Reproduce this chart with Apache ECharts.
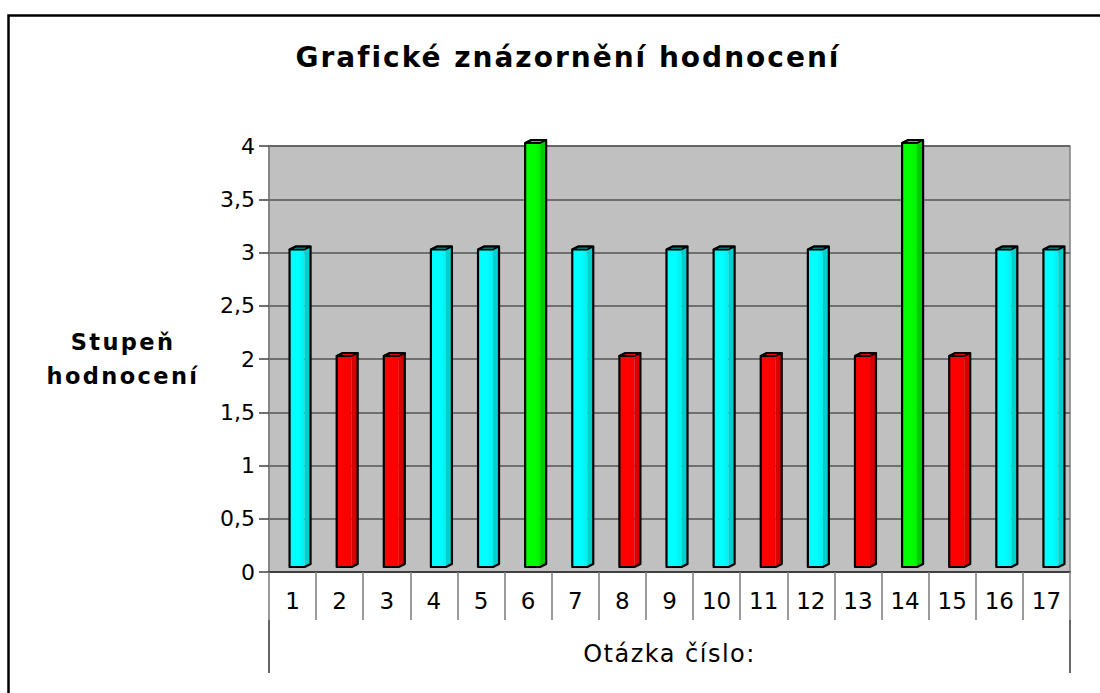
<!DOCTYPE html>
<html>
<head>
<meta charset="utf-8">
<script src="https://cdn.jsdelivr.net/npm/echarts@6/dist/echarts.min.js"></script>
<style>
  html, body { margin: 0; padding: 0; background: #ffffff; }
  #chart { width: 1100px; height: 693px; }
  #chart svg text[style*="bold"] { letter-spacing: 2.4px; }
  #chart svg text[style*="bold"][style*="28px"] { letter-spacing: 2px; }
  #chart svg text[style*="Verdana"] { letter-spacing: 1.5px; }
</style>
</head>
<body>
<div id="chart"></div>
<script>
// ---- data ----
const chartTitle = 'Grafické znázornění hodnocení';
const yAxisTitle = 'Stupeň\nhodnocení';
const xAxisTitle = 'Otázka číslo:';
const categories = ['1','2','3','4','5','6','7','8','9','10','11','12','13','14','15','16','17'];
const values = [3, 2, 2, 3, 3, 4, 3, 2, 3, 3, 2, 3, 2, 4, 2, 3, 3];

// ---- styling ----
const palette = {
  2: { front: '#FF0000', front2: '#F40000', side: '#D80000', top: '#F00000' },
  3: { front: '#00FFFF', front2: '#00EEEE', side: '#00CFCF', top: '#00E6E6' },
  4: { front: '#00FF00', front2: '#00EE00', side: '#00CC00', top: '#22E022' }
};
function colorFor(v) { return palette[v] || palette[3]; }

function renderBar(params, api) {
  const idx = api.value(0);
  const v = api.value(1);
  const p = api.coord([idx, v]);
  const b = api.coord([idx, 0]);
  const cx = p[0];
  const L = cx - 3, R = cx + 18, d = 6, dy = 3;
  const yt = p[1] - 3, yb = b[1] - 5;
  const c = colorFor(v);
  return {
    type: 'group',
    children: [
      { type: 'polygon', shape: { points: [[R - d, yt], [R, yt - dy], [R, yb - dy], [R - d, yb]] },
        style: { fill: c.side } },
      { type: 'rect', shape: { x: L, y: yt, width: R - d - L, height: yb - yt },
        style: { fill: new echarts.graphic.LinearGradient(0, 0, 1, 0, [
          { offset: 0, color: c.front }, { offset: 0.6, color: c.front }, { offset: 1, color: c.front2 }]) } },
      { type: 'polygon', shape: { points: [[L, yt], [L + d, yt - dy], [R, yt - dy], [R - d, yt]] },
        style: { fill: c.top, stroke: '#000', lineWidth: 1.8, lineJoin: 'round' } },
      { type: 'polygon', shape: { points: [[L, yb], [L, yt], [L + d, yt - dy], [R, yt - dy], [R, yb - dy], [R - d, yb]] },
        style: { fill: 'none', stroke: '#000', lineWidth: 2.2, lineJoin: 'round' } }
    ]
  };
}

const chart = echarts.init(document.getElementById('chart'), null, { renderer: 'svg' });
chart.setOption({
  animation: false,
  backgroundColor: '#ffffff',
  textStyle: { fontFamily: 'DejaVu Sans', color: '#000' },
  title: {
    text: chartTitle,
    left: 563,
    top: 38,
    textAlign: 'center',
    textStyle: { fontFamily: 'DejaVu Sans', fontWeight: 'bold', fontSize: 28, color: '#000' }
  },
  graphic: [
    { type: 'rect', silent: true, z: 100,
      shape: { x: 8.5, y: 15.5, width: 2000, height: 2000 },
      style: { fill: 'none', stroke: '#000', lineWidth: 2.5 } }
  ],
  grid: {
    left: 269, right: 30, top: 146, bottom: 121,
    show: true, backgroundColor: '#C0C0C0', borderColor: '#808080', borderWidth: 1.5
  },
  xAxis: [
    {
      type: 'category',
      data: categories,
      axisLine: { show: true, lineStyle: { color: '#333', width: 1.5 } },
      axisTick: { show: true, interval: 0, length: 48, lineStyle: { color: '#7a7a7a', width: 1.5 } },
      axisLabel: { interval: 0, margin: 17, fontSize: 23, color: '#000', fontFamily: 'DejaVu Sans' },
      splitLine: { show: false }
    },
    {
      type: 'category',
      data: [xAxisTitle],
      position: 'bottom',
      offset: 48,
      axisLine: { show: false },
      axisTick: { show: true, length: 53, lineStyle: { color: '#333', width: 1.5 } },
      axisLabel: { margin: 22, fontSize: 24, color: '#000', fontFamily: "'DejaVu Sans', Verdana" },
      splitLine: { show: false }
    }
  ],
  yAxis: {
    type: 'value',
    min: 0, max: 4, interval: 0.5,
    axisLine: { show: true, lineStyle: { color: '#808080', width: 1.5 } },
    axisTick: { show: true, length: 10, lineStyle: { color: '#404040', width: 1.5 } },
    axisLabel: { margin: 14, fontSize: 22, color: '#000', fontFamily: 'DejaVu Sans',
      formatter: v => String(v).replace('.', ',') },
    splitLine: { show: true, lineStyle: { color: '#555', width: 1.5 } },
    name: yAxisTitle,
    nameLocation: 'middle',
    nameRotate: 0,
    nameGap: 146,
    nameTextStyle: { fontFamily: 'DejaVu Sans', fontWeight: 'bold', fontSize: 22.5, lineHeight: 34,
      align: 'center', verticalAlign: 'middle', color: '#000', padding: [0, 0, 6, 0] }
  },
  series: [{
    type: 'custom',
    xAxisIndex: 0,
    yAxisIndex: 0,
    renderItem: renderBar,
    encode: { x: 0, y: 1 },
    data: values.map((v, i) => [i, v])
  }]
});
</script>
</body>
</html>
